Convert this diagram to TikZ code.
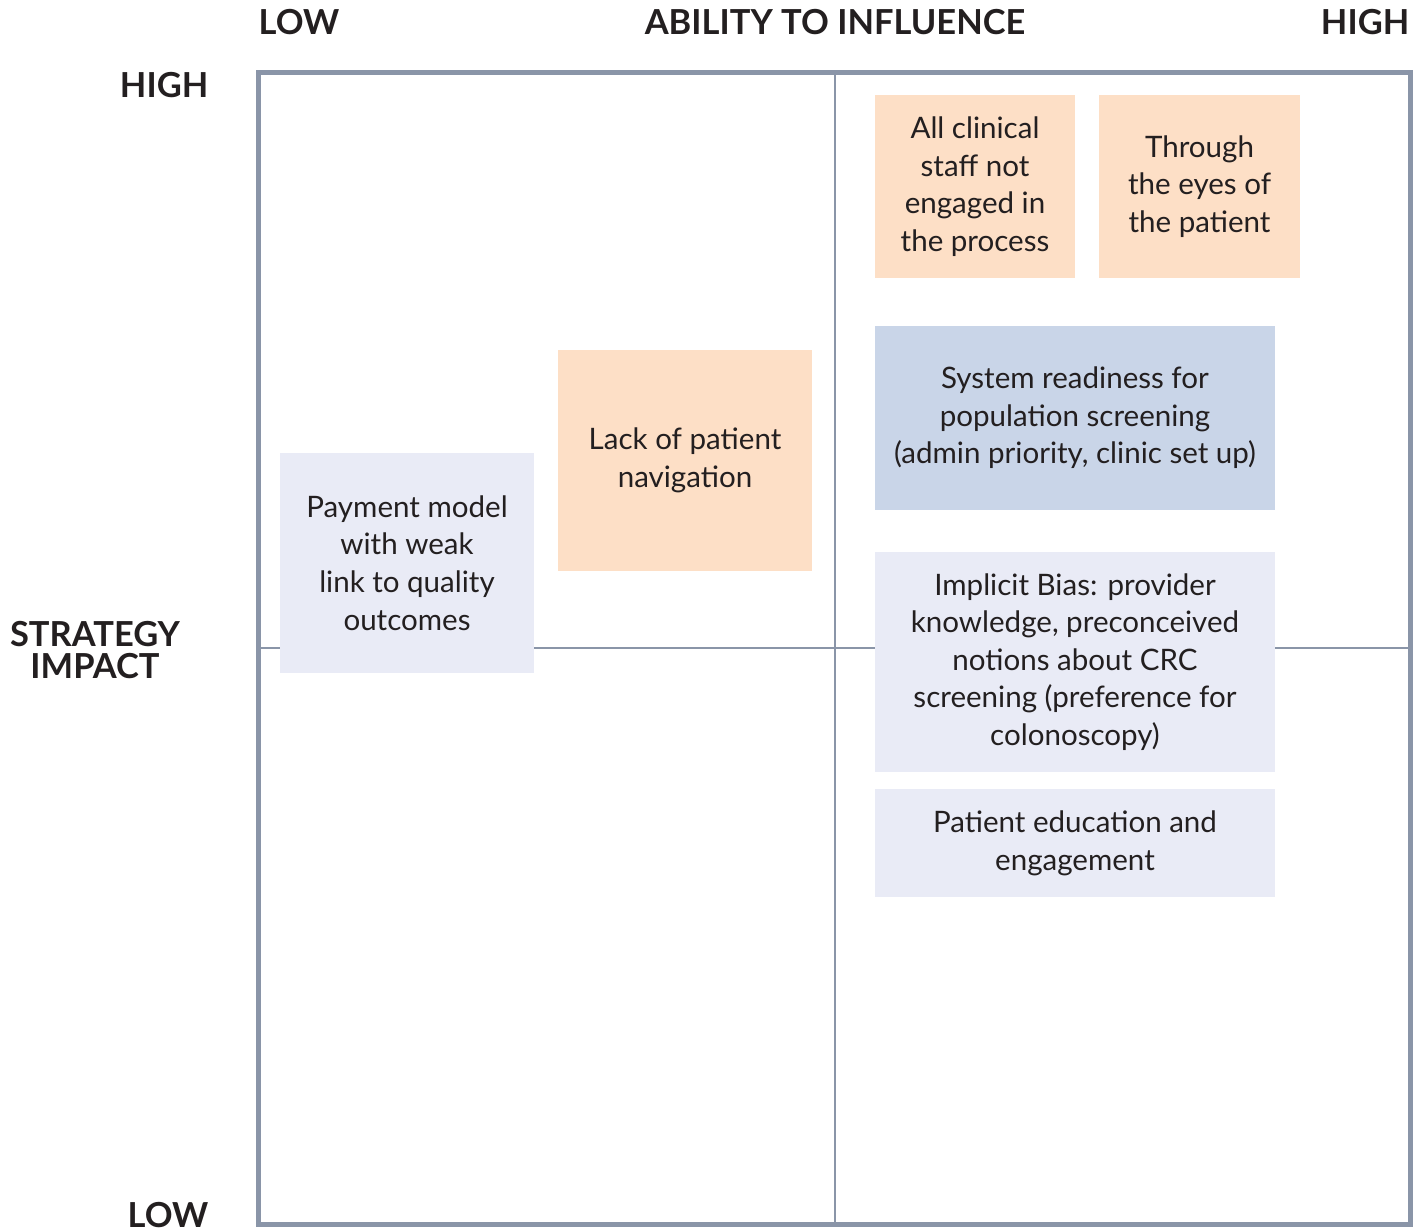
\documentclass[tikz,border=0pt]{standalone}
\usepackage{fontspec}
\setmainfont{Lato}
\usetikzlibrary{positioning}
\definecolor{framegray}{HTML}{8A95A8}
\definecolor{peach}{HTML}{FDDFC6}
\definecolor{lavender}{HTML}{E9EBF6}
\definecolor{steelblue}{HTML}{C9D5E8}
\definecolor{inkdark}{HTML}{231F20}

\tikzset{
	card/.style={inner sep=0pt, align=center, text=inkdark,
		font=\fontsize{8.4}{10.7}\selectfont},
	peachcard/.style={card, fill=peach},
	lavcard/.style={card, fill=lavender},
	bluecard/.style={card, fill=steelblue},
	axislabel/.style={inner sep=0pt, text=inkdark, align=center,
		font=\fontsize{9.8}{9.2}\selectfont\bfseries}
}

\begin{document}
\begin{tikzpicture}[x=0.01cm, y=-0.01cm]
	\useasboundingbox (0,0) rectangle (1425,1230);
	% quadrant lines
	\draw[framegray, line width=0.6pt] (835,73) -- (835,1225);
	\draw[framegray, line width=0.6pt] (258,648) -- (1411,648);
	\draw[framegray, line width=1.45pt] (258.5,72.5) rectangle (1410.5,1224.5);

	% axis labels
	\node[axislabel, anchor=west] (xlow) at (258,22) {LOW};
	\node[axislabel] (xtitle) at (835,22) {ABILITY TO INFLUENCE};
	\node[axislabel, anchor=east] (xhigh) at (1410,22) {HIGH};
	\node[axislabel, anchor=east] (yhigh) at (209,85) {HIGH};
	\node[axislabel] (ytitle) at (95,650) {STRATEGY\\IMPACT};
	\node[axislabel, anchor=east] (ylow) at (209,1215) {LOW};

	% cards
	\node[peachcard, minimum width=2cm, minimum height=1.83cm] (staff) at (975,186.5)
		{All clinical\\staff not\\engaged in\\the process};
	\node[peachcard, minimum width=2cm, minimum height=1.83cm, right=0.23cm of staff] (eyes)
		{Through\\the eyes of\\the patient};
	\node[peachcard, minimum width=2.54cm, minimum height=2.21cm] (navigation) at (685,460.5)
		{Lack of patient\\navigation};
	\node[bluecard, minimum width=4cm, minimum height=1.84cm] (readiness) at (1075,418)
		{System readiness for\\population screening\\(admin priority, clinic set up)};
	\node[lavcard, minimum width=2.54cm, minimum height=2.2cm] (payment) at (407,563)
		{Payment model\\with weak\\link to quality\\outcomes};
	\node[lavcard, minimum width=4cm, minimum height=2.2cm] (bias) at (1075,662)
		{Implicit Bias: provider\\knowledge, preconceived\\notions about CRC\\screening (preference for\\colonoscopy)};
	\node[lavcard, minimum width=4cm, minimum height=1.08cm] (education) at (1075,843)
		{Patient education and\\engagement};
\end{tikzpicture}
\end{document}
